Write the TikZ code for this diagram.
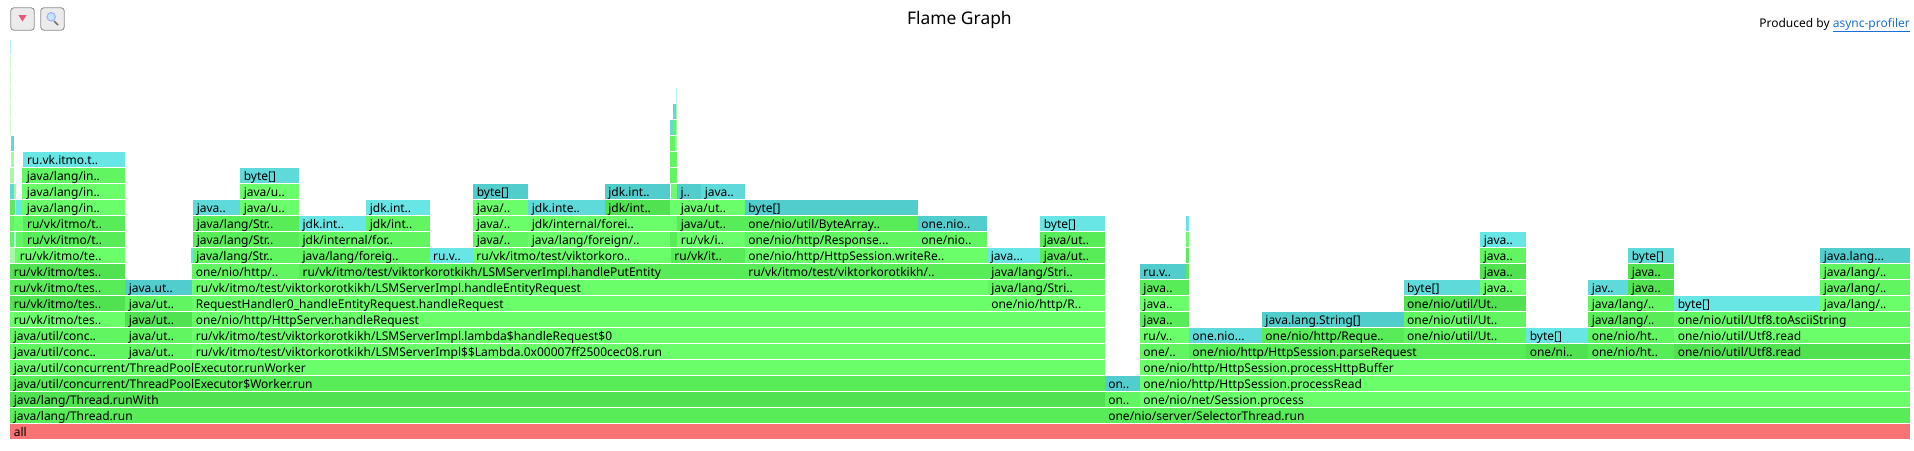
\documentclass[tikz,border=0pt]{standalone}
\usepackage{fontspec}
\setmainfont{Noto Sans}
\definecolor{fgA}{HTML}{6AFF6A}
\definecolor{fgB}{HTML}{61F561}
\definecolor{fgC}{HTML}{58EC58}
\definecolor{fgD}{HTML}{50E250}
\definecolor{fgL}{HTML}{A8F8A8}
\definecolor{fgM}{HTML}{D0FCD0}
\definecolor{cyA}{HTML}{68E6E6}
\definecolor{cyB}{HTML}{5EDADA}
\definecolor{cyC}{HTML}{52CDCD}
\definecolor{cyL}{HTML}{B8F2F2}
\definecolor{rootred}{HTML}{F87474}
\definecolor{linkblue}{HTML}{1A6FD8}
\tikzset{
  fbar/.style={anchor=north west, inner sep=0pt, minimum height=15pt, text height=12pt, text depth=3pt,
    font=\fontsize{12}{14}\selectfont, text=black},
  btn/.style={draw=black!45, fill=black!8, rounded corners=3pt, line width=0.8pt, inner sep=0pt,
    minimum width=23.4pt, minimum height=22.4pt, anchor=north west},
}
% one bar: name, row, left, right, colour, text
\newcommand{\frm}[6]{%
  \pgfmathsetmacro{\fw}{#4-#3}%
  \pgfmathsetmacro{\fy}{424-16*#2}%
  \node[fbar, fill=#5] (#1) at (#3,\fy) {\makebox[\fw pt][l]{\hspace{3.6pt}\mbox{#6}}};}
\begin{document}
\begin{tikzpicture}[x=1pt, y=-1pt]
\useasboundingbox (0,0) rectangle (1914,450);

\node[btn] (btnrev) at (10.4,7.4) {};
\node[btn] (btnfind) at (40.4,7.4) {};
\fill[fill={rgb,255:red,232;green,88;blue,120}] (18.4,15) -- (26.6,15) -- (22.5,21.5) -- cycle;
\draw[line width=1.6pt, black!55] (54,21) -- (58,25);
\draw[line width=1pt, fill=cyan!25, draw=blue!35] (51.2,16.8) circle (4.2);

\node[font=\fontsize{17.4}{20}\selectfont, text=black] (title) at (959.4,20) {Flame Graph};
\node[anchor=east, inner sep=0pt, font=\fontsize{12}{14}\selectfont, text=black] (credit) at (1910,25)
  {Produced by \textcolor{linkblue}{\underline{async-profiler}}};

\frm{r0a}{0}{10}{1910}{rootred}{all}

\frm{r1a}{1}{10}{1104.5}{fgC}{java/lang/Thread.run}
\frm{r1b}{1}{1104.5}{1910}{fgC}{one/nio/server/SelectorThread.run}

\frm{r2a}{2}{10}{1104.5}{fgD}{java/lang/Thread.runWith}
\frm{r2b}{2}{1104.5}{1139.6}{fgB}{on..}
\frm{r2c}{2}{1139.6}{1910}{fgA}{one/nio/net/Session.process}

\frm{r3a}{3}{10}{1104.5}{fgC}{java/util/concurrent/ThreadPoolExecutor\$Worker.run}
\frm{r3b}{3}{1104.5}{1139.6}{cyC}{on..}
\frm{r3c}{3}{1139.6}{1910}{fgA}{one/nio/http/HttpSession.processRead}

\frm{r4a}{4}{10}{1104.5}{fgA}{java/util/concurrent/ThreadPoolExecutor.runWorker}
\frm{r4b}{4}{1139.6}{1910}{fgA}{one/nio/http/HttpSession.processHttpBuffer}

\frm{r5a}{5}{10}{125}{fgB}{java/util/conc..}
\frm{r5b}{5}{125}{192}{fgB}{java/ut..}
\frm{r5c}{5}{192}{1104.5}{fgA}{ru/vk/itmo/test/viktorkorotkikh/LSMServerImpl\$\$Lambda.0x00007ff2500cec08.run}
\frm{r5d}{5}{1139.6}{1188.6}{fgB}{one/..}
\frm{r5e}{5}{1188.6}{1526}{fgC}{one/nio/http/HttpSession.parseRequest}
\frm{r5f}{5}{1526}{1588}{fgD}{one/ni..}
\frm{r5g}{5}{1588}{1674}{fgC}{one/nio/ht..}
\frm{r5h}{5}{1674}{1910}{fgD}{one/nio/util/Utf8.read}

\frm{r6a}{6}{10}{125}{fgB}{java/util/conc..}
\frm{r6b}{6}{125}{192}{fgB}{java/ut..}
\frm{r6c}{6}{192}{1104.5}{fgA}{ru/vk/itmo/test/viktorkorotkikh/LSMServerImpl.lambda\$handleRequest\$0}
\frm{r6d}{6}{1139.6}{1188.6}{fgA}{ru/v..}
\frm{r6e}{6}{1188.6}{1261.6}{cyB}{one.nio...}
\frm{r6f}{6}{1261.6}{1403.4}{fgC}{one/nio/http/Reque..}
\frm{r6g}{6}{1403.4}{1526}{fgB}{one/nio/util/Ut..}
\frm{r6h}{6}{1526}{1588}{cyA}{byte[]}
\frm{r6i}{6}{1588}{1674}{fgB}{one/nio/ht..}
\frm{r6j}{6}{1674}{1910}{fgA}{one/nio/util/Utf8.read}

\frm{r7a}{7}{10}{125}{fgA}{ru/vk/itmo/tes..}
\frm{r7b}{7}{125}{192}{fgD}{java/ut..}
\frm{r7c}{7}{192}{1104.5}{fgA}{one/nio/http/HttpServer.handleRequest}
\frm{r7d}{7}{1139.6}{1188.6}{fgC}{java..}
\frm{r7e}{7}{1261.6}{1403.4}{cyC}{java.lang.String[]}
\frm{r7f}{7}{1403.4}{1526}{fgB}{one/nio/util/Ut..}
\frm{r7g}{7}{1588}{1674}{fgC}{java/lang/..}
\frm{r7h}{7}{1674}{1910}{fgB}{one/nio/util/Utf8.toAsciiString}

\frm{r8a}{8}{10}{125}{fgD}{ru/vk/itmo/tes..}
\frm{r8b}{8}{125}{192}{fgB}{java/ut..}
\frm{r8c}{8}{192}{987.5}{fgA}{RequestHandler0\_handleEntityRequest.handleRequest}
\frm{r8d}{8}{987.5}{1104.5}{fgA}{one/nio/http/R..}
\frm{r8e}{8}{1139.6}{1188.6}{fgA}{java..}
\frm{r8f}{8}{1403.4}{1526}{fgD}{one/nio/util/Ut..}
\frm{r8g}{8}{1588}{1674}{fgB}{java/lang/..}
\frm{r8h}{8}{1674}{1820}{cyA}{byte[]}
\frm{r8i}{8}{1820}{1910}{fgA}{java/lang/..}

\frm{r9a}{9}{10}{125}{fgC}{ru/vk/itmo/tes..}
\frm{r9b}{9}{125}{192}{cyC}{java.ut..}
\frm{r9c}{9}{192}{987.5}{fgA}{ru/vk/itmo/test/viktorkorotkikh/LSMServerImpl.handleEntityRequest}
\frm{r9d}{9}{987.5}{1104.5}{fgB}{java/lang/Stri..}
\frm{r9e}{9}{1139.6}{1188.6}{fgC}{java..}
\frm{r9f}{9}{1403.4}{1480}{cyB}{byte[]}
\frm{r9g}{9}{1480}{1526}{fgA}{java..}
\frm{r9h}{9}{1588}{1628}{cyB}{jav..}
\frm{r9i}{9}{1628}{1674}{fgD}{java..}
\frm{r9j}{9}{1820}{1910}{fgB}{java/lang/..}

\frm{r10a}{10}{10}{125}{fgD}{ru/vk/itmo/tes..}
\frm{r10b}{10}{192}{298.8}{fgB}{one/nio/http/..}
\frm{r10c}{10}{298.8}{744.5}{fgC}{ru/vk/itmo/test/viktorkorotkikh/LSMServerImpl.handlePutEntity}
\frm{r10d}{10}{744.5}{987.5}{fgC}{ru/vk/itmo/test/viktorkorotkikh/..}
\frm{r10e}{10}{987.5}{1104.5}{fgC}{java/lang/Stri..}
\frm{r10f}{10}{1139.6}{1185.3}{cyC}{ru.v..}
\frm{r10g}{10}{1185.3}{1188.6}{fgC}{}
\frm{r10h}{10}{1480}{1526}{fgD}{java..}
\frm{r10i}{10}{1628}{1674}{fgD}{java..}
\frm{r10j}{10}{1820}{1910}{fgB}{java/lang/..}

\frm{r11s}{11}{10}{15}{fgL}{}
\frm{r11a}{11}{15}{125}{fgA}{\hspace{1pt}ru/vk/itmo/te..}
\frm{r11t}{11}{190.8}{192.5}{cyA}{}
\frm{r11b}{11}{192.5}{298.8}{fgB}{java/lang/Str..}
\frm{r11c}{11}{298.8}{429.4}{fgB}{java/lang/foreig..}
\frm{r11d}{11}{429.4}{472.6}{cyA}{ru.v..}
\frm{r11e}{11}{472.6}{670.6}{fgA}{ru/vk/itmo/test/viktorkoro..}
\frm{r11f}{11}{670.6}{744.5}{fgC}{ru/vk/it..}
\frm{r11g}{11}{744.5}{987}{fgA}{one/nio/http/HttpSession.writeRe..}
\frm{r11h}{11}{987}{1040}{cyA}{java...}
\frm{r11i}{11}{1040}{1104.5}{fgC}{java/ut..}
\frm{r11j}{11}{1185.3}{1188.6}{fgC}{}
\frm{r11k}{11}{1480}{1526}{fgB}{java..}
\frm{r11l}{11}{1628}{1674}{cyB}{byte[]}
\frm{r11m}{11}{1820}{1910}{cyC}{java.lang...}

\frm{r12s}{12}{10}{13.3}{fgB}{}
\frm{r12t}{12}{13.3}{15.3}{cyL}{}
\frm{r12u}{12}{15.3}{22.3}{fgB}{}
\frm{r12a}{12}{22.3}{125}{fgC}{\hspace{1pt}ru/vk/itmo/t..}
\frm{r12b}{12}{193}{298.8}{fgC}{java/lang/Str..}
\frm{r12c}{12}{298.8}{429.4}{fgB}{jdk/internal/for..}
\frm{r12d}{12}{473}{528}{fgB}{java/..}
\frm{r12e}{12}{528}{670}{fgA}{java/lang/foreign/..}
\frm{r12f}{12}{670}{677}{fgC}{}
\frm{r12g}{12}{677}{744.5}{fgA}{ru/vk/i..}
\frm{r12h}{12}{744.5}{917.6}{fgB}{one/nio/http/Response...}
\frm{r12i}{12}{917.6}{987}{fgB}{one/nio..}
\frm{r12j}{12}{1040}{1104.5}{fgC}{java/ut..}
\frm{r12k}{12}{1185.3}{1188.6}{fgA}{}
\frm{r12l}{12}{1480}{1526}{cyA}{java..}

\frm{r13s}{13}{10}{14}{fgB}{}
\frm{r13t}{13}{14}{22.3}{fgA}{}
\frm{r13a}{13}{22.3}{125}{fgC}{\hspace{1pt}ru/vk/itmo/t..}
\frm{r13b}{13}{193}{298.8}{fgC}{java/lang/Str..}
\frm{r13c}{13}{298.8}{366}{cyA}{jdk.int..}
\frm{r13d}{13}{366}{429.4}{fgB}{jdk/int..}
\frm{r13e}{13}{473}{528}{fgA}{java/..}
\frm{r13f}{13}{528}{670}{fgA}{jdk/internal/forei..}
\frm{r13g}{13}{670}{677}{fgA}{}
\frm{r13h}{13}{677}{744.5}{fgC}{java/ut..}
\frm{r13i}{13}{744.5}{917.6}{fgC}{one/nio/util/ByteArray..}
\frm{r13j}{13}{917.6}{987}{cyC}{one.nio..}
\frm{r13k}{13}{1040}{1104.5}{cyA}{byte[]}
\frm{r13l}{13}{1185.3}{1188.6}{cyA}{}

\frm{r14s}{14}{10}{14.7}{fgC}{}
\frm{r14t}{14}{15.3}{22}{cyA}{}
\frm{r14a}{14}{22}{125}{fgA}{\hspace{1pt}java/lang/in..}
\frm{r14b}{14}{193}{240}{cyB}{java..}
\frm{r14c}{14}{240}{298.8}{fgA}{java/u..}
\frm{r14d}{14}{366}{429.4}{cyA}{jdk.int..}
\frm{r14e}{14}{473}{528}{fgA}{java/..}
\frm{r14f}{14}{528}{604.5}{cyB}{jdk.inte..}
\frm{r14g}{14}{604.5}{670}{fgD}{jdk/int..}
\frm{r14h}{14}{670}{677}{fgA}{}
\frm{r14i}{14}{677}{744.5}{fgA}{java/ut..}
\frm{r14j}{14}{744.5}{917.6}{cyC}{byte[]}

\frm{r15s}{15}{10}{14}{cyB}{}
\frm{r15t}{15}{14}{15.3}{fgL}{}
\frm{r15a}{15}{22}{125}{fgA}{\hspace{1pt}java/lang/in..}
\frm{r15b}{15}{240}{298.8}{fgA}{java/u..}
\frm{r15c}{15}{473}{528}{cyC}{byte[]}
\frm{r15d}{15}{604.5}{670}{cyC}{jdk.int..}
\frm{r15e}{15}{670.3}{676.7}{fgA}{}
\frm{r15f}{15}{676.7}{701}{cyC}{j..}
\frm{r15g}{15}{701}{744.3}{cyB}{java..}

\frm{r16s}{16}{10}{14}{fgL}{}
\frm{r16a}{16}{22}{125}{fgB}{\hspace{1pt}java/lang/in..}
\frm{r16b}{16}{240}{298.8}{cyB}{byte[]}
\frm{r16c}{16}{670}{676.7}{fgB}{}

\frm{r17s}{17}{10.7}{14}{fgL}{}
\frm{r17a}{17}{22.7}{125}{cyA}{\hspace{.5pt}ru.vk.itmo.t..}
\frm{r17b}{17}{670}{676.7}{fgB}{}

\frm{r18s}{18}{10.7}{14}{cyB}{}
\frm{r18a}{18}{670}{675}{fgB}{}
\frm{r18b}{18}{675}{676.7}{fgL}{}

\frm{r19s}{19}{10}{11}{fgM}{}
\frm{r19a}{19}{670}{672.3}{cyB}{}
\frm{r19b}{19}{672.3}{675.3}{fgB}{}
\frm{r19c}{19}{675.3}{676.7}{fgL}{}

\frm{r20s}{20}{10}{11}{fgM}{}
\frm{r20a}{20}{673}{675.3}{cyB}{}
\frm{r20b}{20}{675.6}{676.7}{fgL}{}

\frm{r21s}{21}{10}{11}{fgM}{}
\frm{r21a}{21}{676}{677}{cyL}{}

\frm{r22s}{22}{10}{11}{fgM}{}
\frm{r23s}{23}{10}{11}{fgM}{}
\frm{r24s}{24}{10}{11}{cyL}{}
\end{tikzpicture}
\end{document}
